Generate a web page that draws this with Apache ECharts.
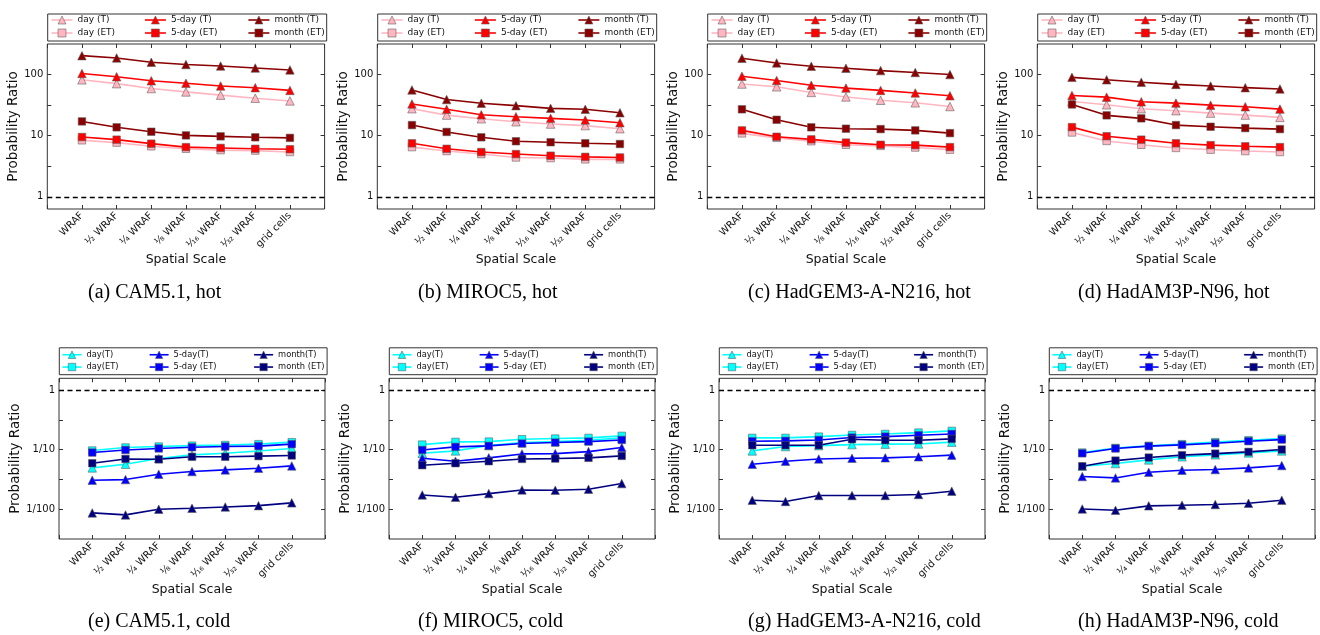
<!DOCTYPE html>
<html><head><meta charset="utf-8">
<script src="https://cdn.jsdelivr.net/npm/echarts@6/dist/echarts.min.js"></script>
<style>html,body{margin:0;padding:0;background:#fff}#c{width:1320px;height:635px}</style>
</head><body><div id="c"></div>
<script>
// ---------------- data ----------------
const categories = ['WRAF', '\u00BD WRAF', '\u00BC WRAF', '\u215B WRAF', '\u00B9\u2044\u2081\u2086 WRAF', '\u00B9\u2044\u2083\u2082 WRAF', 'grid cells'];
const panelCaptions = ['(a) CAM5.1, hot', '(b) MIROC5, hot', '(c) HadGEM3-A-N216, hot', '(d) HadAM3P-N96, hot',
  '(e) CAM5.1, cold', '(f) MIROC5, cold', '(g) HadGEM3-A-N216, cold', '(h) HadAM3P-N96, cold'];
const hotNames = ['day (T)', 'day (ET)', '5-day (T)', '5-day (ET)', 'month (T)', 'month (ET)'];
const coldNames = ['day(T)', 'day(ET)', '5-day(T)', '5-day (ET)', 'month(T)', 'month (ET)'];
const hotYLabelValues = [1, 10, 100];
const hotYLabels = ['1', '10', '100'];
const coldYLabelValues = [0.01, 0.1, 1];
const coldYLabels = ['1/100', '1/10', '1'];
const hotYTickValues = [1, 3.1623, 10, 31.623, 100];
const coldYTickValues = [0.01, 0.031623, 0.1, 0.31623, 1];

// (a) CAM5.1 hot
const a_dayT = [82, 71, 59, 52, 46, 41, 37];
const a_dayET = [8.4, 7.7, 6.7, 6.1, 5.8, 5.7, 5.4];
const a_5dayT = [104, 92, 79, 72, 65, 61, 55];
const a_5dayET = [9.5, 8.6, 7.4, 6.5, 6.3, 6.1, 6.0];
const a_monthT = [204, 187, 159, 146, 138, 128, 119];
const a_monthET = [17.1, 13.7, 11.6, 10.1, 9.75, 9.4, 9.2];
// (b) MIROC5 hot
const b_dayT = [27.6, 21.7, 18.9, 16.9, 15.5, 14.6, 13.0];
const b_dayET = [6.5, 5.6, 5.0, 4.4, 4.3, 4.1, 4.1];
const b_5dayT = [33, 27, 22, 20.4, 19.2, 18, 16.3];
const b_5dayET = [7.5, 6.1, 5.4, 5.0, 4.7, 4.5, 4.4];
const b_monthT = [56, 39, 34, 31, 28, 27, 23.7];
const b_monthET = [14.9, 11.5, 9.4, 8.1, 7.8, 7.5, 7.3];
// (c) HadGEM3-A-N216 hot
const c_dayT = [70, 63, 51, 43, 38, 34.5, 30];
const c_dayET = [10.9, 9.2, 8.1, 7.1, 6.8, 6.4, 5.9];
const c_5dayT = [94, 80, 67, 60, 55, 50, 45];
const c_5dayET = [12.2, 9.6, 8.7, 7.7, 7.1, 7.0, 6.5];
const c_monthT = [185, 155, 137, 127, 116, 108, 100];
const c_monthET = [27, 18.2, 13.7, 13.0, 12.8, 12.2, 11.0];
// (d) HadAM3P-N96 hot
const d_dayT = [36.3, 32, 27.6, 25.6, 23.4, 21.7, 19.9];
const d_dayET = [11.3, 8.2, 7.1, 6.3, 5.9, 5.6, 5.4];
const d_5dayT = [45.5, 42.7, 35.8, 34.1, 31.6, 29.7, 27.2];
const d_5dayET = [13.8, 9.8, 8.6, 7.5, 7.0, 6.7, 6.5];
const d_monthT = [90, 82, 75, 69, 65, 61, 58];
const d_monthET = [32.4, 21.5, 19.2, 14.9, 14.0, 13.3, 12.8];
// (e) CAM5.1 cold
const e_dayT = [0.0495, 0.057, 0.071, 0.082, 0.087, 0.095, 0.105];
const e_dayET = [0.097, 0.109, 0.113, 0.117, 0.12, 0.124, 0.134];
const e_5dayT = [0.0307, 0.0315, 0.0387, 0.043, 0.0458, 0.0489, 0.0535];
const e_5dayET = [0.0896, 0.099, 0.105, 0.110, 0.113, 0.115, 0.124];
const e_monthT = [0.00868, 0.00803, 0.0100, 0.0104, 0.0109, 0.0115, 0.0128];
const e_monthET = [0.0593, 0.070, 0.069, 0.076, 0.076, 0.078, 0.080];
// (f) MIROC5 cold
const f_dayT = [0.087, 0.0955, 0.1175, 0.132, 0.137, 0.1445, 0.158];
const f_dayET = [0.122, 0.1355, 0.137, 0.150, 0.154, 0.158, 0.171];
const f_5dayT = [0.072, 0.064, 0.073, 0.085, 0.086, 0.093, 0.109];
const f_5dayET = [0.099, 0.1115, 0.116, 0.127, 0.132, 0.137, 0.146];
const f_monthT = [0.0174, 0.0159, 0.0183, 0.0211, 0.0209, 0.0217, 0.027];
const f_monthET = [0.0549, 0.0593, 0.064, 0.070, 0.071, 0.073, 0.0787];
// (g) HadGEM3-A-N216 cold
const g_dayT = [0.0955, 0.113, 0.117, 0.122, 0.124, 0.125, 0.134];
const g_dayET = [0.158, 0.158, 0.166, 0.177, 0.184, 0.194, 0.207];
const g_5dayT = [0.057, 0.064, 0.070, 0.072, 0.073, 0.076, 0.081];
const g_5dayET = [0.139, 0.141, 0.146, 0.160, 0.166, 0.175, 0.184];
const g_monthT = [0.0142, 0.0135, 0.0170, 0.0170, 0.0170, 0.0177, 0.0201];
const g_monthET = [0.119, 0.119, 0.119, 0.150, 0.1445, 0.1445, 0.152];
// (h) HadAM3P-N96 cold
const h_dayT = [0.0528, 0.0586, 0.0675, 0.076, 0.082, 0.0885, 0.0955];
const h_dayET = [0.0896, 0.107, 0.116, 0.124, 0.134, 0.1445, 0.154];
const h_5dayT = [0.0354, 0.0336, 0.0418, 0.0452, 0.0464, 0.0495, 0.0542];
const h_5dayET = [0.087, 0.105, 0.115, 0.1205, 0.1285, 0.139, 0.148];
const h_monthT = [0.0101, 0.0096, 0.0114, 0.0117, 0.0120, 0.0126, 0.0142];
const h_monthET = [0.0528, 0.0657, 0.0738, 0.081, 0.086, 0.092, 0.1007];

const panelSeries = [
  [a_dayT, a_dayET, a_5dayT, a_5dayET, a_monthT, a_monthET],
  [b_dayT, b_dayET, b_5dayT, b_5dayET, b_monthT, b_monthET],
  [c_dayT, c_dayET, c_5dayT, c_5dayET, c_monthT, c_monthET],
  [d_dayT, d_dayET, d_5dayT, d_5dayET, d_monthT, d_monthET],
  [e_dayT, e_dayET, e_5dayT, e_5dayET, e_monthT, e_monthET],
  [f_dayT, f_dayET, f_5dayT, f_5dayET, f_monthT, f_monthET],
  [g_dayT, g_dayET, g_5dayT, g_5dayET, g_monthT, g_monthET],
  [h_dayT, h_dayET, h_5dayT, h_5dayET, h_monthT, h_monthET]
];

// ---------------- styling / layout ----------------
const hotColors = ['#FFB6C1', '#FFB6C1', '#FF0000', '#FF0000', '#8B0000', '#8B0000'];
const coldColors = ['#00FFFF', '#00FFFF', '#0000FF', '#0000FF', '#000080', '#000080'];
const symbols = ['triangle', 'rect', 'triangle', 'rect', 'triangle', 'rect'];
const MARKER_EDGE = 'rgba(90,90,90,0.55)';
const FRAME = '#333';
const FONT = 'DejaVu Sans';

const grids = [], xAxes = [], yAxes = [], series = [], legends = [], graphics = [];

for (let p = 0; p < 8; p++) {
  const hot = p < 4;
  const col = p % 4;
  const ox = 330 * col;
  const g = hot ? {left: 47.3 + ox, top: 44, width: 277.3, height: 165}
                : {left: 59 + ox, top: 378.3, width: 266, height: 160.7};
  grids.push(Object.assign({show: true, borderColor: FRAME, borderWidth: 1, backgroundColor: 'transparent'}, g));

  const yMin = hot ? Math.pow(10, -0.2) : Math.pow(10, -2.5);
  const yMax = hot ? Math.pow(10, 2.5) : Math.pow(10, 0.2);
  const labVals = hot ? hotYLabelValues : coldYLabelValues;
  const labTxt = hot ? hotYLabels : coldYLabels;
  const tickVals = hot ? hotYTickValues : coldYTickValues;
  const yFmt = v => {
    for (let k = 0; k < labVals.length; k++) if (Math.abs(Math.log10(v) - Math.log10(labVals[k])) < 1e-6) return labTxt[k];
    return '';
  };
  const tick = {show: true, inside: true, length: 4, lineStyle: {color: FRAME, width: 1}};
  const noLine = {show: false, onZero: false};

  xAxes.push({
    type: 'value', gridIndex: p, min: -1, max: 7, interval: 1, position: 'bottom',
    axisLine: noLine, splitLine: {show: false}, axisTick: tick,
    axisLabel: {rotate: 45, margin: 5, fontSize: 10, color: '#111', fontFamily: FONT,
      formatter: v => (Number.isInteger(v) && v >= 0 && v < categories.length) ? categories[v] : ''},
    name: 'Spatial Scale', nameLocation: 'middle', nameGap: hot ? 43 : 41.5,
    nameTextStyle: {fontSize: 12.5, color: '#111', fontFamily: FONT}
  });
  xAxes.push({
    type: 'value', gridIndex: p, min: -1, max: 7, interval: 1, position: 'top',
    axisLine: noLine, splitLine: {show: false}, axisTick: tick, axisLabel: {show: false}
  });
  yAxes.push({
    type: 'log', logBase: 10, gridIndex: p, min: yMin, max: yMax, position: 'left',
    axisLine: noLine, splitLine: {show: false},
    axisTick: Object.assign({customValues: tickVals}, tick),
    axisLabel: {customValues: labVals, formatter: yFmt, margin: 4, fontSize: 10, color: '#111', fontFamily: FONT},
    name: 'Probability Ratio', nameLocation: 'middle', nameGap: hot ? 25.5 : 34,
    nameTextStyle: {fontSize: 13.5, color: '#111', fontFamily: FONT}
  });
  yAxes.push({
    type: 'log', logBase: 10, gridIndex: p, min: yMin, max: yMax, position: 'right',
    axisLine: noLine, splitLine: {show: false},
    axisTick: Object.assign({customValues: tickVals}, tick),
    axisLabel: {show: false}
  });

  const names = hot ? hotNames : coldNames;
  const colors = hot ? hotColors : coldColors;
  panelSeries[p].forEach((arr, k) => {
    const s = {
      type: 'line', name: names[k], xAxisIndex: 2 * p, yAxisIndex: 2 * p,
      data: arr.map((v, i) => [i, v]),
      symbol: symbols[k], symbolSize: k % 2 === 0 ? 8.5 : 7.5,
      lineStyle: {color: colors[k], width: 1.6},
      itemStyle: {color: colors[k], borderColor: MARKER_EDGE, borderWidth: 1},
      emphasis: {disabled: true}, silent: true, z: 2 + k
    };
    if (k === 0) {
      s.markLine = {
        silent: true, symbol: 'none', label: {show: false},
        lineStyle: {color: '#000', type: [5, 3.5], width: 1.4},
        data: [{yAxis: 1}]
      };
    }
    series.push(s);
  });

  // legend: row-major order, fixed per-column text widths so columns line up
  const order = [0, 2, 4, 1, 3, 5];
  const tw = hot ? [63.6, 73.7, 50] : [59.3, 76.7, 47];
  legends.push({
    left: hot ? 47.7 + ox : 59.3 + ox, top: hot ? 14 : 347.8,
    width: 285, orient: 'horizontal', selectedMode: false,
    padding: hot ? [1, 2, 3, 3] : [2.3, 2, 3, 2.4],
    itemGap: 3, itemWidth: hot ? 21 : 19, itemHeight: hot ? 10 : 9.3,
    borderColor: FRAME, borderWidth: 1, borderRadius: 0, backgroundColor: '#fff',
    textStyle: {fontSize: hot ? 9 : 8.3, lineHeight: hot ? 10 : 9.3, color: '#111', fontFamily: FONT},
    data: order.map((k, j) => ({
      name: names[k],
      itemStyle: {color: colors[k], borderColor: MARKER_EDGE, borderWidth: 1},
      lineStyle: {color: colors[k], width: 1.6},
      textStyle: {width: tw[j % 3], fontSize: hot ? 9 : 8.3, fontFamily: FONT, color: '#111'}
    }))
  });

  graphics.push({
    type: 'text', x: 88 + ox, y: hot ? 293 : 621.7,
    style: {text: panelCaptions[p], fill: '#000', font: '20px "Liberation Serif"', verticalAlign: 'middle', textVerticalAlign: 'middle'}
  });
}

const chart = echarts.init(document.getElementById('c'), null, {renderer: 'canvas'});
chart.setOption({
  animation: false,
  backgroundColor: '#fff',
  textStyle: {fontFamily: FONT},
  grid: grids, xAxis: xAxes, yAxis: yAxes, series: series, legend: legends,
  graphic: graphics
});
</script>
</body></html>
